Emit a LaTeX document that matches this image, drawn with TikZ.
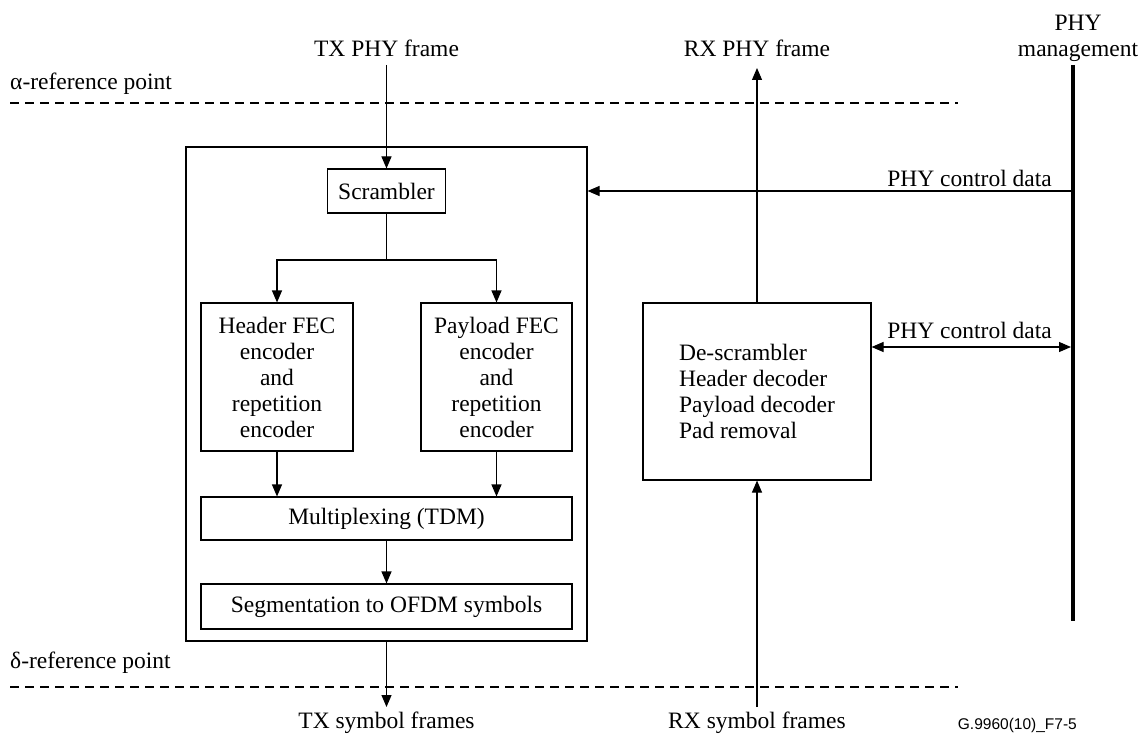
\documentclass[tikz,border=0pt]{standalone}
\usepackage{fontspec}
\setmainfont{Liberation Serif}
\newfontfamily\sansf{Liberation Sans}
\usetikzlibrary{arrows.meta}
\begin{document}
\begin{tikzpicture}[x=1pt,y=-1pt,
  every node/.style={font=\fontsize{23.5}{26}\selectfont, inner sep=0pt},
  box/.style={draw, line width=1.1pt, align=center},
  ln/.style={line width=1.1pt},
  arr/.style={line width=1.1pt, -{Triangle[length=12pt,width=10pt]}},
  darr/.style={line width=1.1pt, {Triangle[length=12pt,width=10pt]}-{Triangle[length=12pt,width=10pt]}},
  dashline/.style={line width=1.1pt, dash pattern=on 9pt off 6pt},
  mgmtbar/.style={line width=4pt}]
\useasboundingbox (0,0) rectangle (1140,738);

% boxes
\node[box, minimum width=401pt, minimum height=494pt] (outer) at (386.5,394) {};
\node[box, minimum width=118pt, minimum height=44pt] (scr) at (386.5,191) {Scrambler};
\node[box, minimum width=152pt, minimum height=148pt] (hfec) at (277,377) {Header FEC\\encoder\\and\\repetition\\encoder};
\node[box, minimum width=151pt, minimum height=148pt] (pfec) at (496.5,377) {Payload FEC\\encoder\\and\\repetition\\encoder};
\node[box, minimum width=371pt, minimum height=43pt] (mux) at (386.5,518.5) {Multiplexing (TDM)};
\node[box, minimum width=371pt, minimum height=45pt] (seg) at (386.5,606.5) {Segmentation to OFDM symbols};
\node[box, align=left, minimum width=228pt, minimum height=177pt] (rx) at (757,391.5) {De-scrambler\\Header decoder\\Payload decoder\\Pad removal};

% labels
\node[anchor=base] (txf) at (386.5,57) {TX PHY frame};
\node[anchor=base] (rxf) at (757,57) {RX PHY frame};
\node[anchor=base] (txs) at (386.5,728) {TX symbol frames};
\node[anchor=base] (rxs) at (757,728) {RX symbol frames};
\node[anchor=base west] (alpha) at (10,90) {α-reference point};
\node[anchor=base west] (delta) at (10,668) {δ-reference point};
\node[anchor=south, align=center] (mgmt) at (1078,62) {PHY\\management};
\node[anchor=base east] (pcd1) at (1052,186) {PHY control data};
\node[anchor=base east] (pcd2) at (1052,338) {PHY control data};
\node[anchor=base east, font=\sansf\fontsize{15.5}{18}\selectfont] (fig) at (1077,729) {G.9960(10)\_F7-5};

% coordinates
\coordinate (txin) at (386.5,65);
\coordinate (rxout) at (757,68);
\coordinate (txout) at (386.5,707);
\coordinate (rxin) at (757,707);
\coordinate (mtop) at (1073,65);
\coordinate (mbot) at (1073,621);
\coordinate (c1) at (1071,191);
\coordinate (c2) at (1071,347);
\coordinate (split) at (386.5,260);
\coordinate (a1) at (10,103);
\coordinate (a2) at (958,103);
\coordinate (d1) at (10,687);
\coordinate (d2) at (958,687);

% reference lines
\draw[dashline] (a1) -- (a2);
\draw[dashline] (d1) -- (d2);

% management bar
\draw[mgmtbar] (mtop) -- (mbot);

% TX chain
\draw[arr] (txin) -- (scr.north);
\draw[ln] (scr.south) -- (split);
\draw[arr] (split) -| (hfec.north);
\draw[arr] (split) -| (pfec.north);
\draw[arr] (hfec.south) -- (hfec.south |- mux.north);
\draw[arr] (pfec.south) -- (pfec.south |- mux.north);
\draw[arr] (mux.south) -- (seg.north);
\draw[arr] (outer.south) -- (txout);

% RX chain
\draw[arr] (rx.north) -- (rxout);
\draw[arr] (rxin) -- (rx.south);

% control data
\draw[arr] (c1) -- (c1 -| outer.east);
\draw[darr] (rx.east |- c2) -- (c2);
\end{tikzpicture}
\end{document}
